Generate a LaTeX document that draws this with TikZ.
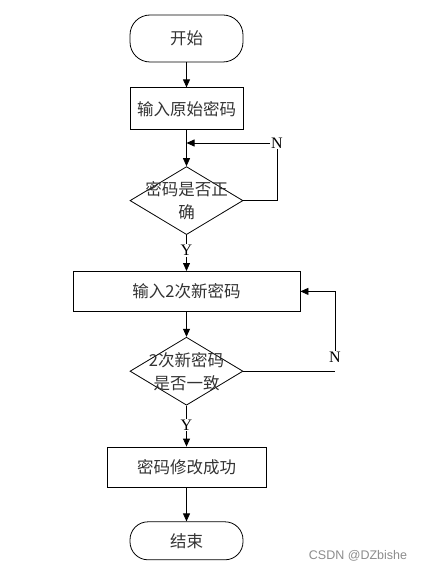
\documentclass[tikz,border=0pt]{standalone}
\usepackage{fontspec}
\setmainfont{Liberation Serif}
\newfontfamily\cjk{Noto Sans CJK SC}
\newfontfamily\wmfont{Liberation Sans}
\usetikzlibrary{positioning,arrows.meta,shapes.geometric}

\begin{document}
\begin{tikzpicture}[
    x=1pt, y=-1pt,
    node distance=25pt,
    term/.style={
      rectangle, draw=black, rounded corners=20pt, line width=0.8pt,
      font=\cjk\fontsize{16.5}{23}\selectfont, text=black!80,
      minimum width=113pt, inner sep=0pt
    },
    proc/.style={
      rectangle, draw=black, line width=0.8pt,
      font=\cjk\fontsize{16.5}{23}\selectfont, text=black!80,
      minimum height=40pt, inner sep=0pt
    },
    decision/.style={
      diamond, draw=black, line width=0.8pt,
      minimum width=113pt, minimum height=68pt, inner sep=0pt
    },
    dtext/.style={
      align=center, inner sep=0pt,
      font=\cjk\fontsize{16.5}{23}\selectfont, text=black!80
    },
    lbl/.style={inner sep=1pt, font=\fontsize{16}{18}\selectfont},
    arr/.style={-{Triangle[length=8pt,width=7pt]}, line width=0.8pt, draw=black},
    line/.style={line width=0.8pt, draw=black}
  ]
    \useasboundingbox (0,0) rectangle (420,572);
    \node[term, minimum height=47pt] (start) at (186.5,38.5) {开始};
    \node[proc, minimum width=113pt, minimum height=42pt, below=25pt of start] (in1) {输入原始密码};
    \node[decision, below=36pt of in1] (d1) {};
    \node[dtext] (d1t) at (d1) {密码是否正\\确};
    \node[lbl, below=9pt of d1] (y1) {Y};
    \node[proc, minimum width=227pt, below=36pt of d1] (in2) {{\cjk 输入}2{\cjk 次新密码}};
    \node[decision, below=25pt of in2] (d2) {};
    \node[dtext] (d2t) at (d2) {2{\cjk 次新密码}\\是否一致};
    \node[lbl, below=13pt of d2] (y2) {Y};
    \node[proc, minimum width=159pt, below=41pt of d2] (ok) {密码修改成功};
    \node[term, minimum height=38pt, rounded corners=18pt, below=34pt of ok] (end) {结束};
    \node[lbl] (n1) at (277,143) {N};
    \node[lbl] (n2) at (335,357) {N};
    \node[font=\wmfont\fontsize{12.5}{14}\selectfont, text=black!45, inner sep=0pt] (wm) at (358,556) {CSDN @DZbishe};
    \draw[arr] (start) -- (in1);
    \draw[arr] (in1) -- (d1);
    \draw[line] (d1.east) -| (n1.south);
    \draw[arr] (n1.west) -- (n1.west -| in1.south);
    \draw[line] (d1.south) -- (y1.north);
    \draw[arr] (y1) -- (in2);
    \draw[arr] (in2) -- (d2);
    \draw[line] (d2.east) -- (d2.east -| n2);
    \draw[arr] (n2.north) |- (in2.east);
    \draw[line] (d2.south) -- (y2.north);
    \draw[arr] (y2) -- (ok);
    \draw[arr] (ok) -- (end);
  \end{tikzpicture}
\end{document}
